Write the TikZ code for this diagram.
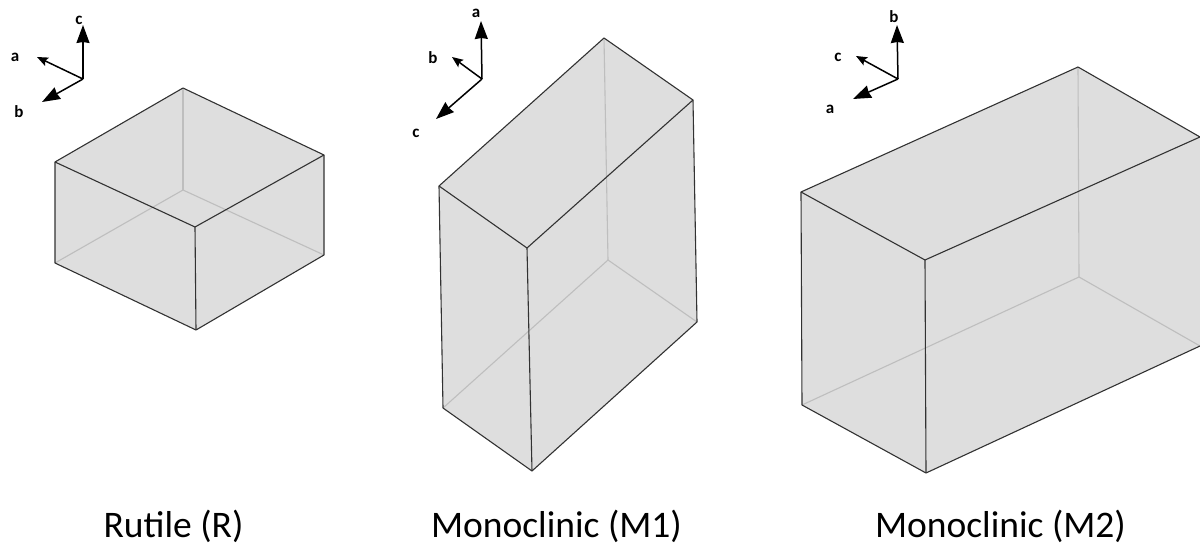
\documentclass[tikz,border=0pt]{standalone}
\usepackage{fontspec}
\setmainfont{Carlito}
\usepackage{tikz}
\usetikzlibrary{arrows.meta}
\definecolor{faceGray}{RGB}{222, 222, 222}
\definecolor{hiddenEdge}{RGB}{190, 190, 190}
\definecolor{frontEdge}{RGB}{50, 50, 50}

\begin{document}
\begin{tikzpicture}[
  x=1pt, y=-1pt,
  face/.style={fill=faceGray, draw=none},
  hidden/.style={draw=hiddenEdge, line width=1.1pt},
  front/.style={draw=frontEdge, line width=1.1pt, line join=round},
  axisbig/.style={-{Stealth[length=18pt, width=13pt, inset=1pt]}, line width=1.5pt},
  axissmall/.style={-{Stealth[length=11pt, width=9pt, inset=2pt]}, line width=1.5pt},
  axislabel/.style={font=\bfseries\fontsize{17}{17}\selectfont, inner sep=0pt},
  caption/.style={font=\fontsize{37.5}{37.5}\selectfont, inner sep=0pt}
]
  \useasboundingbox (0,0) rectangle (1200,545);

  % Rutile box
  \coordinate (rTB) at (183,88);
  \coordinate (rTR) at (324,155);
  \coordinate (rTF) at (195,227);
  \coordinate (rTL) at (55,162);
  \coordinate (rBB) at (183,190);
  \coordinate (rBR) at (324,255);
  \coordinate (rBF) at (196,330);
  \coordinate (rBL) at (55,263);
  \fill[face] (rTB) -- (rTR) -- (rBR) -- (rBF) -- (rBL) -- (rTL) -- cycle;
  \draw[hidden] (rTB) -- (rBB);
  \draw[hidden] (rBL) -- (rBB) -- (rBR);
  \draw[front] (rTL) -- (rTB) -- (rTR) -- (rBR) -- (rBF) -- (rBL) -- cycle;
  \draw[front] (rTL) -- (rTF) -- (rTR);
  \draw[front] (rTF) -- (rBF);

  % M1 box
  \coordinate (mTB) at (604,38);
  \coordinate (mTR) at (693,100);
  \coordinate (mTF) at (527,248);
  \coordinate (mTL) at (439,186);
  \coordinate (mBB) at (608,260);
  \coordinate (mBR) at (697,322);
  \coordinate (mBF) at (532,471);
  \coordinate (mBL) at (443,408);
  \fill[face] (mTB) -- (mTR) -- (mBR) -- (mBF) -- (mBL) -- (mTL) -- cycle;
  \draw[hidden] (mTB) -- (mBB);
  \draw[hidden] (mBL) -- (mBB) -- (mBR);
  \draw[front] (mTL) -- (mTB) -- (mTR) -- (mBR) -- (mBF) -- (mBL) -- cycle;
  \draw[front] (mTL) -- (mTF) -- (mTR);
  \draw[front] (mTF) -- (mBF);

  % M2 box, runs off the right side
  \coordinate (nTB) at (1078,67);
  \coordinate (nTR) at (1200,137);
  \coordinate (nTF) at (925,260);
  \coordinate (nTL) at (801,192);
  \coordinate (nBB) at (1079,277);
  \coordinate (nBR) at (1200,346);
  \coordinate (nBF) at (926,473);
  \coordinate (nBL) at (802,405);
  \fill[face] (nTB) -- (nTR) -- (nBR) -- (nBF) -- (nBL) -- (nTL) -- cycle;
  \draw[hidden] (nTB) -- (nBB);
  \draw[hidden] (nBL) -- (nBB) -- (nBR);
  \draw[front] (nTR) -- (nTB) -- (nTL) -- (nBL) -- (nBF) -- (nBR);
  \draw[front] (nTL) -- (nTF) -- (nTR);
  \draw[front] (nTF) -- (nBF);

  % Rutile axes
  \coordinate (rO) at (83,79);
  \node[axislabel] (rc) at (79,20) {c};
  \node[axislabel] (ra) at (15,57) {a};
  \node[axislabel] (rb) at (19,112) {b};
  \coordinate (rcTip) at (83,25);
  \coordinate (raTip) at (37,57);
  \coordinate (rbTip) at (42,102);
  \draw[axisbig] (rO) -- (rcTip);
  \draw[axissmall] (rO) -- (raTip);
  \draw[axisbig] (rO) -- (rbTip);

  % M1 axes
  \coordinate (mO) at (482,79);
  \node[axislabel] (ma) at (476,13) {a};
  \node[axislabel] (mb) at (433,58) {b};
  \node[axislabel] (mc) at (416,133) {c};
  \coordinate (maTip) at (481,21);
  \coordinate (mbTip) at (452,57);
  \coordinate (mcTip) at (436,119);
  \draw[axisbig] (mO) -- (maTip);
  \draw[axissmall] (mO) -- (mbTip);
  \draw[axisbig] (mO) -- (mcTip);

  % M2 axes
  \coordinate (nO) at (898,79);
  \node[axislabel] (nb) at (894,17) {b};
  \node[axislabel] (nc) at (838,57) {c};
  \node[axislabel] (na) at (830,109) {a};
  \coordinate (nbTip) at (897,25);
  \coordinate (ncTip) at (856,56);
  \coordinate (naTip) at (853,99);
  \draw[axisbig] (nO) -- (nbTip);
  \draw[axissmall] (nO) -- (ncTip);
  \draw[axisbig] (nO) -- (naTip);

  % Captions
  \node[caption] (rutile) at (173.5,526) {Rutile (R)};
  \node[caption] (mono1) at (556.5,526) {Monoclinic (M1)};
  \node[caption] (mono2) at (1000.5,526) {Monoclinic (M2)};
\end{tikzpicture}
\end{document}
